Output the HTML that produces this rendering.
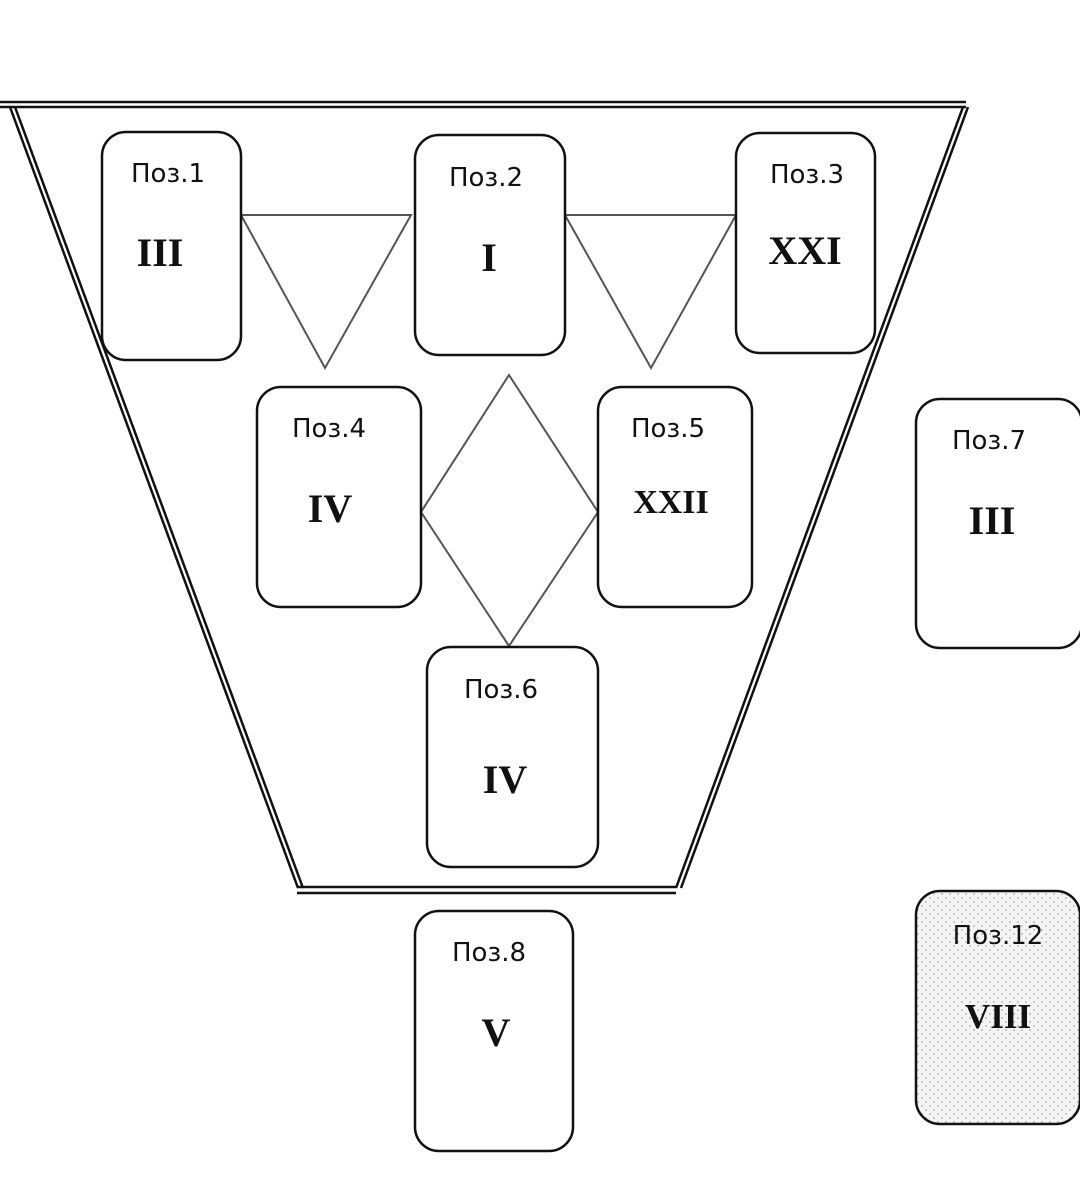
<!DOCTYPE html>
<html><head><meta charset="utf-8"><style>
html,body{margin:0;padding:0;background:#fff;width:1080px;height:1177px;overflow:hidden}
.l{font-family:"DejaVu Sans","Liberation Sans",sans-serif;font-size:26px;fill:#111}
.r{font-family:"Liberation Serif",serif;font-weight:bold;font-size:40px;fill:#111}
</style></head><body>
<svg width="1080" height="1177" viewBox="0 0 1080 1177" xmlns="http://www.w3.org/2000/svg">
<defs>
<pattern id="dots" width="8" height="8" patternUnits="userSpaceOnUse">
<rect width="8" height="8" fill="#f4f4f4"/><circle cx="2" cy="2" r="1" fill="#bbb"/><circle cx="6" cy="6" r="1" fill="#bbb"/>
</pattern>
</defs>
<g stroke="#111" stroke-width="2.5" fill="none">
<line x1="0" y1="102" x2="966" y2="102"/>
<line x1="0" y1="107" x2="966" y2="107"/>
<line x1="10" y1="107" x2="298" y2="888"/>
<line x1="15" y1="107" x2="303" y2="888"/>
<line x1="963" y1="107" x2="676" y2="888"/>
<line x1="968" y1="107" x2="681" y2="888"/>
<line x1="297" y1="887" x2="676" y2="887"/>
<line x1="297" y1="893" x2="676" y2="893"/>
</g>
<g stroke="#555" stroke-width="2" fill="none">
<polygon points="241,215 411,215 325,368"/>
<polygon points="565,215 736,215 651,368"/>
<polygon points="509,375 598,512 509,646 421,512"/>
</g>
<g stroke="#111" stroke-width="2.5" fill="#fff">
<rect x="102" y="132" width="139" height="228" rx="24"/>
<rect x="415" y="135" width="150" height="220" rx="24"/>
<rect x="736" y="133" width="139" height="220" rx="24"/>
<rect x="257" y="387" width="164" height="220" rx="24"/>
<rect x="598" y="387" width="154" height="220" rx="24"/>
<rect x="427" y="647" width="171" height="220" rx="24"/>
<rect x="916" y="399" width="166" height="249" rx="24"/>
<rect x="415" y="911" width="158" height="240" rx="24"/>
<rect x="916" y="891" width="164" height="233" rx="24" fill="url(#dots)"/>
</g>
<g text-anchor="middle">
<text class="l" x="168" y="182">Поз.1</text><text class="r" x="160" y="266">III</text>
<text class="l" x="486" y="186">Поз.2</text><text class="r" x="489" y="271">I</text>
<text class="l" x="807" y="183">Поз.3</text><text class="r" x="805" y="264">XXI</text>
<text class="l" x="329" y="437">Поз.4</text><text class="r" x="330" y="522">IV</text>
<text class="l" x="668" y="437">Поз.5</text><text class="r" x="671" y="513" style="font-size:34px">XXII</text>
<text class="l" x="989" y="449">Поз.7</text><text class="r" x="992" y="534">III</text>
<text class="l" x="501" y="698">Поз.6</text><text class="r" x="505" y="793">IV</text>
<text class="l" x="489" y="961">Поз.8</text><text class="r" x="496" y="1046">V</text>
<text class="l" x="998" y="944">Поз.12</text><text class="r" x="998" y="1028" style="font-size:35px">VIII</text>
</g>
</svg>
</body></html>
